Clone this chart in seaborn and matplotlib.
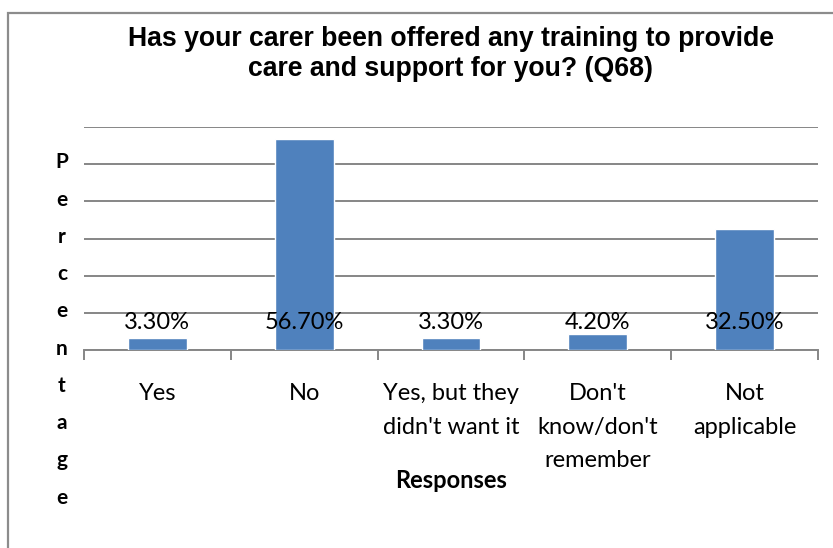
import matplotlib
matplotlib.use("Agg")
import matplotlib.pyplot as plt
from matplotlib.patches import Rectangle
import seaborn as sns
import pandas as pd

categories = ["Yes", "No", "Yes, but they\ndidn't want it", "Don't\nknow/don't\nremember", "Not\napplicable"]
values = [3.3, 56.7, 3.3, 4.2, 32.5]
value_labels = ["3.30%", "56.70%", "3.30%", "4.20%", "32.50%"]

title = "Has your carer been offered any training to provide\ncare and support for you? (Q68)"
x_title = "Responses"
y_title = "Percentage"

sns.set_theme(style="white")
plt.rcParams["font.family"] = ["Lato", "DejaVu Sans"]
plt.rcParams["text.color"] = "black"
plt.rcParams["xtick.color"] = "black"

df = pd.DataFrame({"category": categories, "value": values})

fig = plt.figure(figsize=(8.33, 5.48), dpi=100)
ax = fig.add_axes([84 / 833, 1 - 350 / 548, (818 - 84) / 833, (350 - 127) / 548])

sns.barplot(data=df, x="category", y="value", color="#4F81BD", width=0.4,
            saturation=1, ax=ax, zorder=3)

ax.set_ylim(0, 60)
ax.set_xlim(-0.5, len(categories) - 0.5)
ax.set_yticks(range(0, 61, 10))
ax.set_yticklabels([])
ax.yaxis.grid(True, color="#868686", linewidth=1.4)
ax.set_axisbelow(True)
for s in ["left", "right", "top"]:
    ax.spines[s].set_visible(False)
ax.spines["bottom"].set_color("#868686")
ax.spines["bottom"].set_linewidth(1.4)
ax.tick_params(axis="y", length=0)

# category ticks at the boundaries between bars, labels centred under bars
ax.set_xticks([i - 0.5 for i in range(len(categories) + 1)])
ax.set_xticklabels([])
ax.tick_params(axis="x", which="major", length=7, width=1.4, color="#868686",
               direction="out", bottom=True)
ax.set_xticks(range(len(categories)), minor=True)
ax.set_xticklabels(categories, minor=True, fontsize=17, color="black", linespacing=1.76)
ax.tick_params(axis="x", which="minor", length=0, pad=23.5)

for i, lab in enumerate(value_labels):
    ax.text(i, 7.3, lab, ha="center", va="center", fontsize=17, color="black", zorder=4)

ax.set_ylabel("")
ax.set_xlabel(x_title, fontsize=17, fontweight="bold", color="black")
ax.xaxis.label.set_va("center")
ax.xaxis.set_label_coords(0.5, (350 - 481) / 223)

fig.text(62 / 833, 1 - 330 / 548, "\n".join(y_title), ha="center", va="center",
         fontsize=15, fontweight="bold", linespacing=2.08)

fig.text(451 / 833, 1 - 54.5 / 548, title, ha="center", va="center",
         fontsize=19.2, fontweight="bold", family="Liberation Sans", linespacing=1.2)

fig.patches.append(Rectangle((8 / 833, -0.05), 1.1, 0.05 + 1 - 13 / 548,
                             transform=fig.transFigure, fill=False,
                             edgecolor="#8c8c8c", linewidth=1.6))

fig.savefig("out.png", dpi=100)
